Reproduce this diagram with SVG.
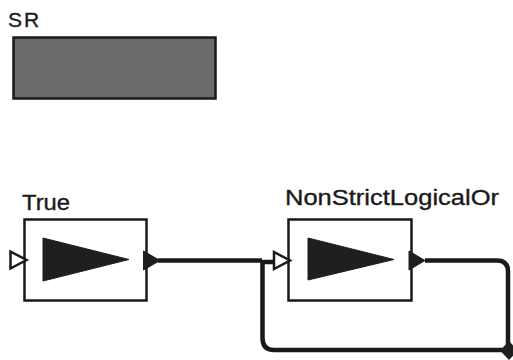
<svg xmlns="http://www.w3.org/2000/svg" width="513" height="360" viewBox="0 0 513 360">
<style>
.lbl{font-family:"Liberation Sans",Arial,sans-serif;fill:#1a1a1a;stroke:#1a1a1a;stroke-width:0.35}
.box{fill:#ffffff;stroke:#1a1a1a;stroke-width:2.5}
.tri{fill:#1f1f1f;stroke:#1f1f1f;stroke-width:1}
.inport{fill:#ffffff;stroke:#1a1a1a;stroke-width:2.5;stroke-linejoin:miter}
.outport{fill:#1f1f1f;stroke:#1f1f1f;stroke-width:1}
.wire{fill:none;stroke:#1a1a1a;stroke-width:4.5;stroke-linejoin:round}
</style>
<rect width="513" height="360" fill="#ffffff"/>
<g id="SR">
<text class="lbl" x="8" y="27" font-size="21" letter-spacing="2">SR</text>
<rect x="13.5" y="37.5" width="202" height="61" fill="#6b6b6b" stroke="#1a1a1a" stroke-width="2.5"/>
</g>
<g id="connectors">
<path class="wire" d="M158 260.5 H262"/>
<path class="wire" d="M425 260.5 H497 Q508 260.5 508 271.5 V350 H274 Q262.5 350 262.5 338 V262 H276"/>
<polygon points="509,341 518,350.5 509,360 500,350.5" fill="#1f1f1f"/>
</g>
<g id="True">
<text class="lbl" x="22" y="210" font-size="22" textLength="48" lengthAdjust="spacingAndGlyphs">True</text>
<rect class="box" x="24.5" y="219.5" width="122" height="81"/>
<polygon class="tri" points="43,238 129,259.5 43,281"/>
<polygon class="inport" points="10.5,251.5 26.5,260 10.5,268.5"/>
<polygon class="outport" points="143.5,251 160,260.5 143.5,270"/>
</g>
<g id="NonStrictLogicalOr">
<text class="lbl" x="285" y="205" font-size="22" textLength="214" lengthAdjust="spacingAndGlyphs">NonStrictLogicalOr</text>
<rect class="box" x="288.5" y="219.5" width="123" height="81"/>
<polygon class="tri" points="308,238 394,259.5 308,280"/>
<polygon class="inport" points="274,252 290,260.5 274,269"/>
<polygon class="outport" points="409,251 425,260.5 409,270"/>
</g>
</svg>
